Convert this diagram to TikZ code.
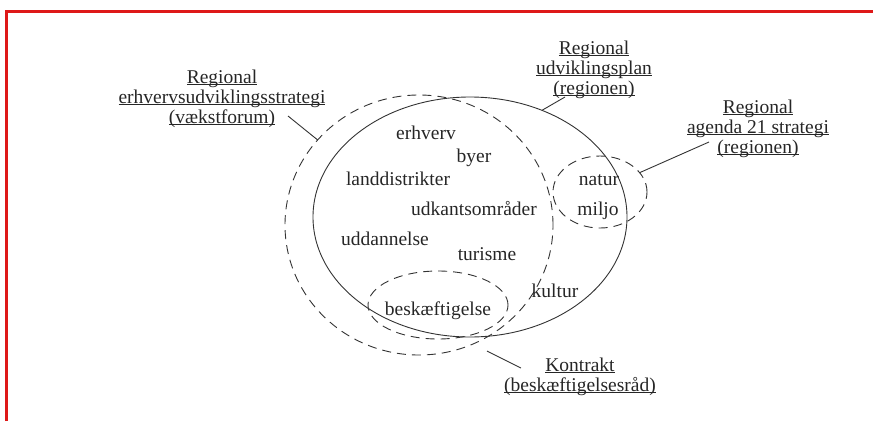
\documentclass[tikz,border=0pt]{standalone}
\usepackage{fontspec}
\setmainfont{Liberation Serif}
\usetikzlibrary{shapes.geometric}

\definecolor{framered}{RGB}{222,24,24}
\newcommand{\ulline}[1]{\underline{\smash{#1}}}

\tikzset{
  ring/.style={ellipse, draw=black!80, line width=0.9pt, inner sep=0pt, outer sep=0pt},
  dashring/.style={ring, dash pattern=on 9pt off 6pt},
  word/.style={anchor=base, inner sep=0pt, text=black!85},
  caption/.style={anchor=north, align=center, inner sep=0pt, text=black!85},
  pointer/.style={draw=black!80, line width=0.9pt},
}

\begin{document}
\begin{tikzpicture}[x=1pt, y=-1pt, font=\fontsize{19.5}{20}\selectfont]
  \useasboundingbox (0,0) rectangle (873,421);
  % red frame, top and left only
  \draw[framered, line width=3pt] (6.5,421) -- (6.5,11) -- (873,11);

  % the plans as rings
  \node[ring, minimum width=314pt, minimum height=240pt] (planring) at (470,217) {};
  \node[dashring, minimum width=268pt, minimum height=260pt] (strategyring) at (419,225) {};
  \node[dashring, minimum width=94pt, minimum height=72pt] (agendaring) at (600,192) {};
  \node[dashring, minimum width=140pt, minimum height=68pt] (jobring) at (438,305) {};

  % themes
  \node[word] (erhverv) at (426,139) {erhverv};
  \node[word] (byer) at (474,162) {byer};
  \node[word] (land) at (398,185) {landdistrikter};
  \node[word] (udkant) at (474,215) {udkantsområder};
  \node[word] (uddannelse) at (385,245) {uddannelse};
  \node[word] (turisme) at (487,260) {turisme};
  \node[word] (natur) at (599,185) {natur};
  \node[word] (miljo) at (598,215) {miljo};
  \node[word] (kultur) at (555,297) {kultur};
  \node[word] (job) at (438,315) {beskæftigelse};

  % labels
  \node[caption] (strategylabel) at (222,83)
    {\ulline{Regional}\\ \ulline{erhvervsudviklingsstrategi}\\ \ulline{(vækstforum)}};
  \node[caption] (planlabel) at (594,54)
    {\ulline{Regional}\\ \ulline{udviklingsplan}\\ \ulline{(regionen)}};
  \node[caption] (agendalabel) at (758,113)
    {\ulline{Regional}\\ \ulline{agenda 21 strategi}\\ \ulline{(regionen)}};
  \node[caption] (kontraktlabel) at (580,371)
    {\ulline{Kontrakt}\\ \ulline{(beskæftigelsesråd)}};

  % pointers
  \coordinate (strategypin) at (288,116);
  \coordinate (planpin) at (565,97);
  \coordinate (agendapin) at (709,142);
  \coordinate (jobpin) at (487,351);
  \coordinate (kontraktpin) at (521,368);
  \draw[pointer] (strategypin) -- (strategyring.140);
  \draw[pointer] (planpin) -- (planring.56);
  \draw[pointer] (agendapin) -- (agendaring.26);
  \draw[pointer] (jobpin) -- (kontraktpin);
\end{tikzpicture}
\end{document}
